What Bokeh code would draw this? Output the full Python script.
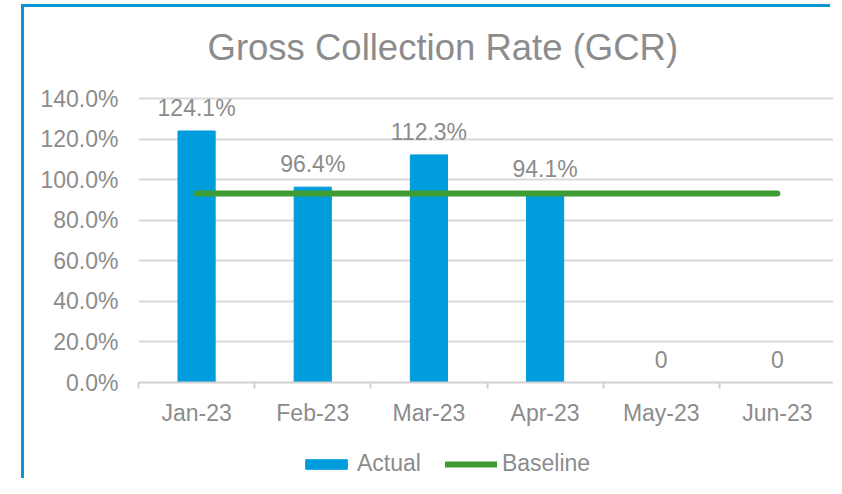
from bokeh.plotting import figure
from bokeh.layouts import column
from bokeh.models import Range1d, FixedTicker, Legend, LegendItem, ColumnDataSource, NumeralTickFormatter
from bokeh.core.properties import value
from bokeh.embed import file_html
from bokeh.resources import INLINE

title_text = "Gross Collection Rate (GCR)"
months = ["Jan-23", "Feb-23", "Mar-23", "Apr-23", "May-23", "Jun-23"]
actual = [1.241, 0.964, 1.123, 0.941, 0.0, 0.0]
baseline = [0.933, 0.933, 0.933, 0.933, 0.933, 0.933]
y_ticks = [0.0, 0.2, 0.4, 0.6, 0.8, 1.0, 1.2, 1.4]
series_names = ["Actual", "Baseline"]

FONT = "Liberation Sans"
GRAY = "#8c8c8c"
BLUE = "#009ddc"
GREEN = "#3f9c35"
FRAME = "3px solid #0a96d4"

xs = [i + 0.5 for i in range(len(months))]
labels = [f"{v*100:.1f}%" if v else "0" for v in actual]
src = ColumnDataSource(dict(x=xs, actual=actual, baseline=baseline, label=labels))


def strip(height, **kw):
    f = figure(width=809, height=height, output_backend="svg", toolbar_location=None,
               x_range=Range1d(-3, -2), y_range=Range1d(0, 1),
               x_axis_location=None, y_axis_location=None,
               min_border_left=114, min_border_right=1, **kw)
    f.outline_line_color = None
    f.grid.visible = False
    f.background_fill_color = "white"
    f.border_fill_color = "white"
    return f


# title strip
t = strip(74, min_border_top=60, min_border_bottom=0)
t.styles = {"margin-left": "21px", "margin-top": "4px", "border-left": FRAME, "border-top": FRAME}
t.title.text = title_text
t.title.align = "left"
t.title.offset = 69
t.title.standoff = 0
t.title.text_font = FONT
t.title.text_font_size = "36.5px"
t.title.text_font_style = "normal"
t.title.text_color = GRAY

# main chart (range runs a little above 140% so the top data label is not clipped)
p = figure(frame_width=694, frame_height=304, output_backend="svg", toolbar_location=None,
           title=None, x_range=Range1d(0, len(months)), y_range=Range1d(0, 1.5),
           min_border_left=114, min_border_right=1, min_border_top=0, min_border_bottom=50)
p.styles = {"margin-left": "21px", "border-left": FRAME}
p.outline_line_color = None
p.background_fill_color = "white"
p.border_fill_color = "white"

p.vbar(x="x", top="actual", width=0.32, source=src, color=BLUE)
p.line(x="x", y="baseline", source=src, line_color=GREEN, line_width=6, line_cap="round")
p.text(x="x", y="actual", text="label", source=src, text_align="center", text_baseline="middle",
       y_offset=-23, text_font=value(FONT), text_font_size="23px", text_color=GRAY)

p.yaxis.ticker = FixedTicker(ticks=y_ticks)
p.yaxis.formatter = NumeralTickFormatter(format="0.0%")
p.yaxis.axis_line_color = None
p.yaxis.major_tick_line_color = None
p.yaxis.minor_tick_line_color = None
p.yaxis.major_label_standoff = 14
p.yaxis.major_label_text_font = FONT
p.yaxis.major_label_text_font_size = "23px"
p.yaxis.major_label_text_color = GRAY

p.ygrid.ticker = FixedTicker(ticks=y_ticks[1:])
p.ygrid.grid_line_color = "#d9d9d9"
p.ygrid.grid_line_width = 2
p.xgrid.grid_line_color = None

p.xaxis.ticker = FixedTicker(ticks=xs, minor_ticks=list(range(len(months) + 1)))
p.xaxis.major_label_overrides = {x: m for x, m in zip(xs, months)}
p.xaxis.axis_line_color = "#d0d0d0"
p.xaxis.axis_line_width = 2
p.xaxis.major_tick_line_color = None
p.xaxis.major_tick_out = 0
p.xaxis.minor_tick_line_color = "#d0d0d0"
p.xaxis.minor_tick_line_width = 2
p.xaxis.minor_tick_out = 6
p.xaxis.minor_tick_in = 0
p.xaxis.major_label_standoff = 11
p.xaxis.major_label_text_font = FONT
p.xaxis.major_label_text_font_size = "23px"
p.xaxis.major_label_text_color = GRAY

# legend strip: same series styles, drawn out of view, only their legend swatches show
lg = strip(46, min_border_top=0, min_border_bottom=0)
lg.styles = {"margin-left": "21px", "border-left": FRAME}
r_bar = lg.vbar(x="x", top="actual", width=0.32, source=src, color=BLUE)
r_line = lg.line(x="x", y="baseline", source=src, line_color=GREEN, line_width=6, line_cap="round")

legend = Legend(items=[LegendItem(label=series_names[0], renderers=[r_bar]),
                       LegendItem(label=series_names[1], renderers=[r_line])],
                orientation="horizontal", location=(162, 1),
                padding=0, margin=0, spacing=24, label_standoff=5,
                glyph_width=52, glyph_height=12, label_height=23,
                label_text_font=FONT, label_text_font_size="23px", label_text_color=GRAY,
                border_line_color=None, background_fill_alpha=0)
lg.add_layout(legend, "center")

layout = column(t, p, lg, spacing=0)
open("out.html", "w").write(file_html(layout, INLINE))
